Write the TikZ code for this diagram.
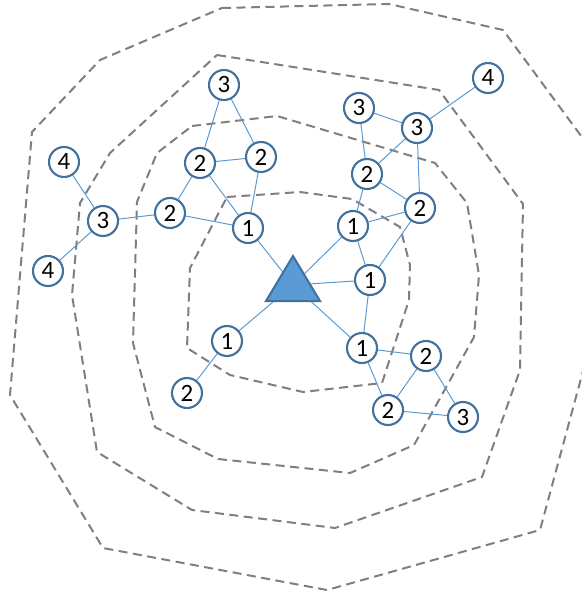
\documentclass[tikz,border=0pt]{standalone}
\usepackage{fontspec}
\setmainfont{Carlito}
\usetikzlibrary{backgrounds}
\definecolor{nodeborder}{HTML}{41719C}
\definecolor{edgeblue}{HTML}{5B9BD5}
\definecolor{trifill}{HTML}{5B9BD5}
\definecolor{ringgray}{HTML}{7F7F7F}
\begin{document}
\begin{tikzpicture}[x=1bp,y=-1bp,
 vtx/.style={circle,draw=nodeborder,line width=2.1bp,fill=white,minimum size=30bp,inner sep=0pt,font=\fontsize{25}{27}\selectfont},
 link/.style={draw=edgeblue,line width=1bp},
 ring/.style={draw=ringgray,line width=2bp,dash pattern=on 9bp off 5.5bp,line join=round}]
\useasboundingbox (0,0) rectangle (582,599);
% left cluster
\node[vtx] (t3) at (224,85) {3};
\node[vtx] (a2) at (200,163) {2};
\node[vtx] (b2) at (261,157) {2};
\node[vtx] (c2) at (170,213) {2};
\node[vtx] (a1) at (248,228) {1};
\node[vtx] (l3) at (103,221) {3};
\node[vtx] (l4a) at (64,162) {4};
\node[vtx] (l4b) at (48,271) {4};
% right cluster
\node[vtx] (r4) at (488,78) {4};
\node[vtx] (r3a) at (359,108) {3};
\node[vtx] (r3b) at (417,128) {3};
\node[vtx] (r2a) at (367,174) {2};
\node[vtx] (r2b) at (420,208) {2};
\node[vtx] (r1a) at (353,226) {1};
\node[vtx] (r1b) at (370,280) {1};
% bottom left
\node[vtx] (b1) at (227,341) {1};
\node[vtx] (bb2) at (187,393) {2};
% bottom right
\node[vtx] (c1) at (362,348) {1};
\node[vtx] (c2a) at (426,356) {2};
\node[vtx] (c2b) at (388,410) {2};
\node[vtx] (c3) at (463,417) {3};
% centre triangle
\coordinate (tri) at (293,285);
\filldraw[fill=trifill,draw=nodeborder,line width=2bp,line join=miter] (293,256) -- (320,301) -- (266,301) -- cycle;
\begin{pgfonlayer}{background}
\begin{scope}
\clip (0,0) rectangle (582,599);
\draw[ring] (227,197) -- (300,192) -- (352,199) -- (400,227) -- (410,265) -- (409,300) -- (382,383) -- (303,392) -- (230,375) -- (187,348) -- (190,268) -- cycle;
\draw[ring] (192,126) -- (277,116) -- (435,163) -- (467,203) -- (479,275) -- (474,337) -- (414,445) -- (350,473) -- (218,459) -- (155,427) -- (133,343) -- (137,202) -- (157,153) -- cycle;
\draw[ring] (217,55) -- (439,90) -- (523,204) -- (520,370) -- (482,477) -- (335,528) -- (192,510) -- (97,452) -- (72,295) -- (80,203) -- (110,153) -- cycle;
\draw[ring] (222,8) -- (389,4) -- (503,30) -- (629,201) -- (540,530) -- (327,590) -- (103,548) -- (10,395) -- (32,132) -- (100,60) -- cycle;
\end{scope}
\draw[link] (t3) -- (a2);
\draw[link] (t3) -- (b2);
\draw[link] (a2) -- (b2);
\draw[link] (a2) -- (c2);
\draw[link] (a2) -- (a1);
\draw[link] (b2) -- (a1);
\draw[link] (c2) -- (a1);
\draw[link] (c2) -- (l3);
\draw[link] (l3) -- (l4a);
\draw[link] (l3) -- (l4b);
\draw[link] (a1) -- (tri);
\draw[link] (r4) -- (r3b);
\draw[link] (r3a) -- (r3b);
\draw[link] (r3a) -- (r2a);
\draw[link] (r3b) -- (r2a);
\draw[link] (r3b) -- (r2b);
\draw[link] (r2a) -- (r2b);
\draw[link] (r2a) -- (r1a);
\draw[link] (r1a) -- (r2b);
\draw[link] (r1a) -- (r1b);
\draw[link] (r2b) -- (r1b);
\draw[link] (r1a) -- (tri);
\draw[link] (r1b) -- (tri);
\draw[link] (r1b) -- (c1);
\draw[link] (b1) -- (tri);
\draw[link] (b1) -- (bb2);
\draw[link] (c1) -- (tri);
\draw[link] (c1) -- (c2a);
\draw[link] (c1) -- (c2b);
\draw[link] (c2a) -- (c2b);
\draw[link] (c2a) -- (c3);
\draw[link] (c2b) -- (c3);
\end{pgfonlayer}
\end{tikzpicture}
\end{document}
